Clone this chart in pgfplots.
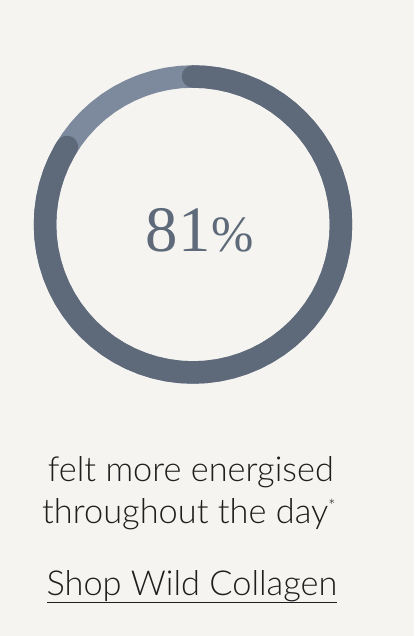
\documentclass[border=0pt]{standalone}
\usepackage{pgfplots}
\pgfplotsset{compat=1.18}
\usepgfplotslibrary{polar}
\usepackage{fontspec}
\setmainfont{Liberation Serif}
\newfontfamily\lightfont{Lato Light}
\definecolor{bg}{HTML}{F5F4F0}
\definecolor{ringdark}{HTML}{5E6A7A}
\definecolor{ringlight}{HTML}{7D8A9E}
\definecolor{txt}{HTML}{1E1E1E}
\begin{document}
\begin{tikzpicture}[x=1bp,y=1bp]
\fill[bg] (0,0) rectangle (414,636);
\begin{polaraxis}[at={(193bp,411.5bp)}, anchor=center, width=318bp, height=318bp,
  scale only axis, hide axis, ymin=0, ymax=159, clip=false]
% track (full ring)
\addplot[no marks, line width=22.5bp, color=ringlight, line join=round] coordinates {
(0,148) (5,148) (10,148) (15,148) (20,148) (25,148) (30,148) (35,148) (40,148) (45,148)
(50,148) (55,148) (60,148) (65,148) (70,148) (75,148) (80,148) (85,148) (90,148) (95,148)
(100,148) (105,148) (110,148) (115,148) (120,148) (125,148) (130,148) (135,148) (140,148) (145,148)
(150,148) (155,148) (160,148) (165,148) (170,148) (175,148) (180,148) (185,148) (190,148) (195,148)
(200,148) (205,148) (210,148) (215,148) (220,148) (225,148) (230,148) (235,148) (240,148) (245,148)
(250,148) (255,148) (260,148) (265,148) (270,148) (275,148) (280,148) (285,148) (290,148) (295,148)
(300,148) (305,148) (310,148) (315,148) (320,148) (325,148) (330,148) (335,148) (340,148) (345,148)
(350,148) (355,148) (360,148) (365,148)};
% progress 81%
\addplot[no marks, line width=22.5bp, color=ringdark, line cap=round, line join=round] coordinates {
(90,148) (85,148) (80,148) (75,148) (70,148) (65,148) (60,148) (55,148) (50,148) (45,148)
(40,148) (35,148) (30,148) (25,148) (20,148) (15,148) (10,148) (5,148) (0,148) (-5,148)
(-10,148) (-15,148) (-20,148) (-25,148) (-30,148) (-35,148) (-40,148) (-45,148) (-50,148) (-55,148)
(-60,148) (-65,148) (-70,148) (-75,148) (-80,148) (-85,148) (-90,148) (-95,148) (-100,148) (-105,148)
(-110,148) (-115,148) (-120,148) (-125,148) (-130,148) (-135,148) (-140,148) (-145,148) (-150,148) (-155,148)
(-160,148) (-165,148) (-170,148) (-175,148) (-180,148) (-185,148) (-190,148) (-195,148) (-200,148) (-205,148)
(-210,148) (-211.6,148)};
\end{polaraxis}
\node[anchor=base, text=ringdark, inner sep=0pt] at (200,384.3)
  {\fontsize{65}{65}\selectfont 81\kern1bp{\fontsize{51}{51}\selectfont\%}};
\node[anchor=base, text=txt, inner sep=0pt] at (190.8,154.3)
  {\lightfont\fontsize{34.5}{34.5}\selectfont felt more energised};
\node[anchor=base, text=txt, inner sep=0pt] at (189,112.7)
  {\lightfont\fontsize{34.5}{34.5}\selectfont throughout the day\raisebox{11bp}{\fontsize{18}{18}\selectfont *}};
\node[anchor=base, text=txt, inner sep=0pt] at (192,40)
  {\lightfont\fontsize{34.5}{34.5}\selectfont Shop Wild Collagen};
\draw[txt, line width=1.5bp] (47.3,33.7) -- (336.7,33.7);
\end{tikzpicture}
\end{document}
